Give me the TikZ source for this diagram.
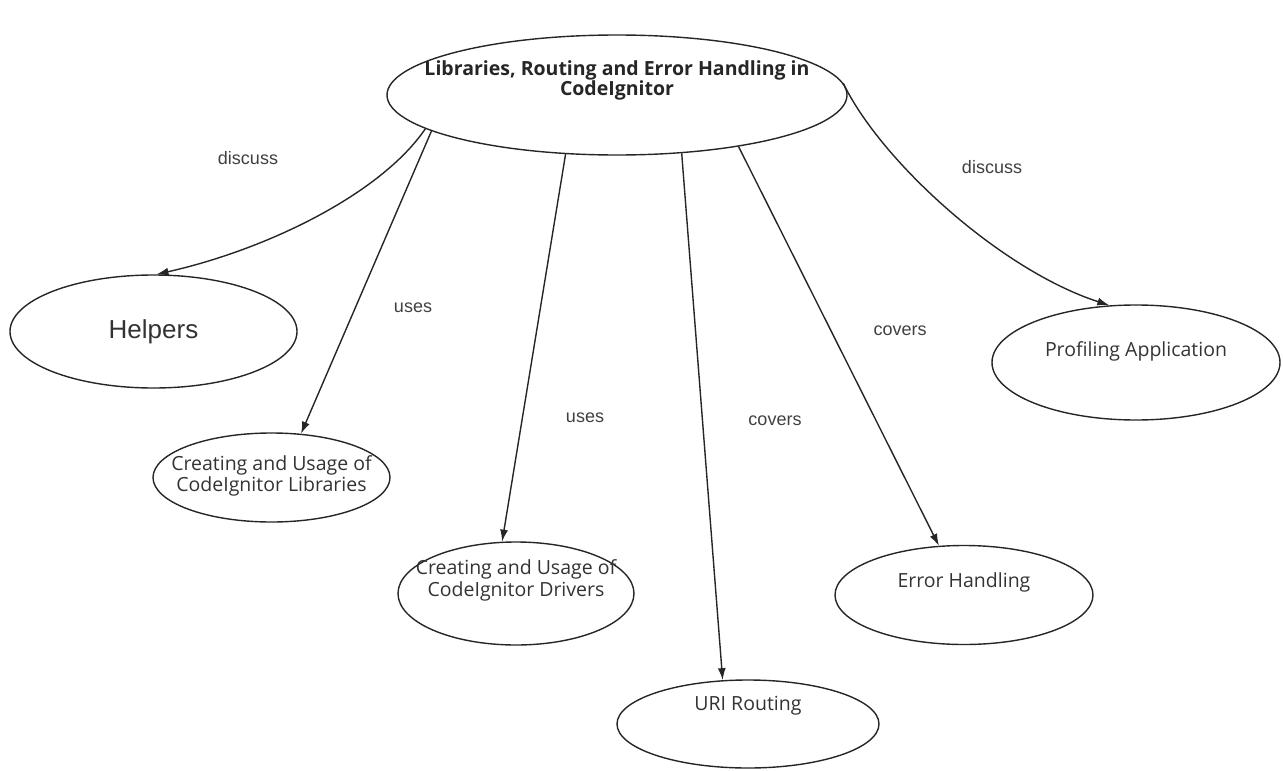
\documentclass[tikz,border=0pt]{standalone}
\usepackage{fontspec}
\setmainfont{Open Sans}
\newfontfamily\lblfont{Liberation Sans}
\usetikzlibrary{shapes.geometric,arrows.meta}
\begin{document}
\begin{tikzpicture}[x=1pt,y=-1pt,
  bub/.style={draw=black!85, ellipse, line width=1.4pt, inner sep=0pt},
  txt/.style={font=\fontsize{19.5}{21.6}\selectfont, align=center, text=black!80, inner sep=0pt},
  ttl/.style={font=\bfseries\fontsize{19.5}{20}\selectfont, align=center, text=black!85, inner sep=0pt},
  edge/.style={draw=black!85, line width=1.4pt, -{Latex[length=12pt,width=8pt]}},
  elab/.style={font=\lblfont\fontsize{18}{20}\selectfont, text=black!75, inner sep=0pt}]
\useasboundingbox (0,0) rectangle (1283,771);
% nodes
\node[bub, minimum width=460pt, minimum height=120pt,
  label={[ttl, yshift=15pt]center:Libraries, Routing and Error Handling in\\CodeIgnitor}] (top) at (617,95) {};
\node[bub, minimum width=287pt, minimum height=113pt,
  label={[font=\lblfont\fontsize{26}{28}\selectfont, text=black!80, inner sep=0pt]center:Helpers}] (helpers) at (153.5,331.5) {};
\node[bub, minimum width=237pt, minimum height=89pt,
  label={[txt, yshift=1.5pt]center:Creating and Usage of\\CodeIgnitor Libraries}] (libs) at (271.5,477.5) {};
\node[bub, minimum width=236pt, minimum height=103pt,
  label={[txt, yshift=13pt]center:Creating and Usage of\\CodeIgnitor Drivers}] (drivers) at (516,593.5) {};
\node[bub, minimum width=262pt, minimum height=88pt,
  label={[txt, yshift=18pt]center:URI Routing}] (uri) at (748,724) {};
\node[bub, minimum width=258pt, minimum height=99pt,
  label={[txt, yshift=12.5pt]center:Error Handling}] (error) at (964,595) {};
\node[bub, minimum width=288pt, minimum height=115pt,
  label={[txt, yshift=11.5pt]center:Profiling Application}] (prof) at (1136,362.5) {};
% connectors
\draw[edge] (top.190) .. controls (380,195) and (265,250) .. (helpers.87);
\draw[edge] (top.191) -- (libs.56);
\draw[edge] (top.229) -- (drivers.105.5);
\draw[edge] (top.318.7) -- (uri.120.6);
\draw[edge] (top.337) -- (error.117);
\draw[edge] (top.3.7) .. controls (880,160) and (1000,270) .. (prof.115.6);
% connector labels
\node[elab] (l1) at (248,158) {discuss};
\node[elab] (l2) at (413,308) {uses};
\node[elab] (l3) at (585,418) {uses};
\node[elab] (l4) at (775,421) {covers};
\node[elab] (l5) at (900,331) {covers};
\node[elab] (l6) at (992,167) {discuss};
\end{tikzpicture}
\end{document}
